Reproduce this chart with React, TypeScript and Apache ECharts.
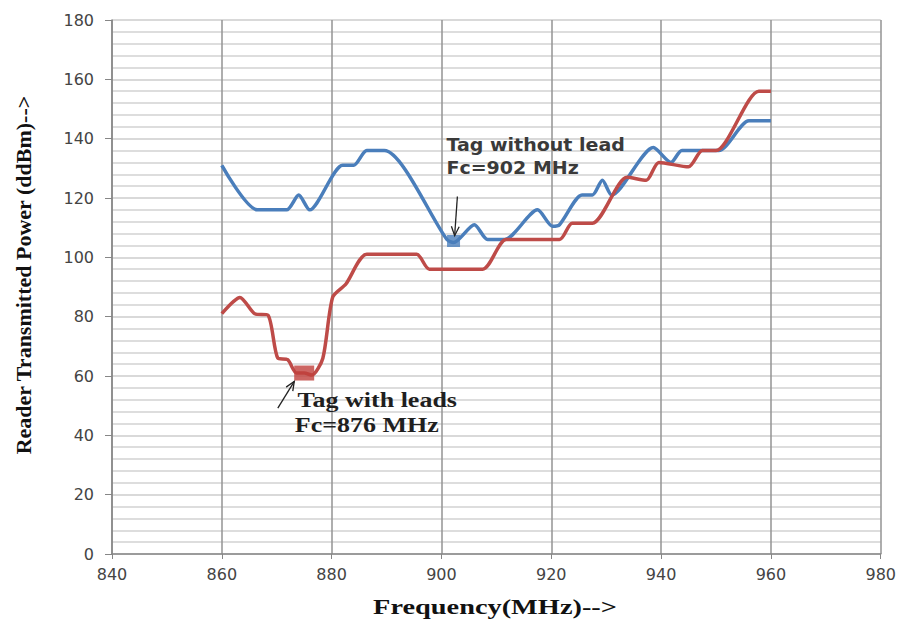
import React, { useEffect, useRef } from "react";
import * as echarts from "echarts";

// Tag without lead (blue)
const blueFreq = [860, 866.5, 871.8, 874, 876, 882, 884, 886.4, 889.6, 901, 902.2, 906, 908.4, 911.5, 917.5, 920.2, 921.5, 925.6, 927.5, 929.3, 931, 938.6, 941.8, 943.8, 950.5, 956, 960];
const bluePower = [131, 116, 116, 121, 116, 131, 131, 136, 136, 106, 105, 111, 106, 106, 116, 110.5, 111, 121, 121, 126, 121, 137, 132, 136, 136, 146, 146];

// Tag with leads (red)
const redFreq = [860, 863.3, 866, 868.4, 870.2, 872, 873.6, 875, 876.4, 878.4, 880.2, 882.6, 886.4, 895.5, 897.8, 907.5, 911.8, 921.5, 923.8, 927.5, 933.8, 937.3, 939.6, 945, 947.5, 950, 957.8, 960];
const redPower = [81, 86.5, 81, 80.5, 66, 65.5, 61, 61, 60.3, 66, 86.6, 91, 101, 101, 96, 96, 106, 106, 111.5, 111.5, 127, 126, 132, 130.5, 136, 136, 156, 156];

// Resonance markers
const blueMarker = [902.2, 105.5];
const redMarker = [875, 61];

// Axis settings
const xMin = 840, xMax = 980, xStep = 20;
const yMin = 0, yMax = 180, yStep = 20;

const xTitle = "Frequency(MHz)-->";
const yTitle = "Reader Transmitted Power (ddBm)-->";

// Annotations in data coordinates
const annoTexts = [
  { text: "Tag without lead", at: [900.9, 137.8], font: "sans", color: "#3a3a3a" },
  { text: "Fc=902 MHz", at: [900.9, 130.0], font: "sans", color: "#3a3a3a" },
  { text: "Tag with leads", at: [873.8, 51.9], font: "serif", color: "#1f1f1f" },
  { text: "Fc=876 MHz", at: [873.3, 43.4], font: "serif", color: "#1f1f1f" },
];
const annoArrows = [
  { from: [902.9, 120.5], to: [902.4, 107.3] },
  { from: [870.2, 49.2], to: [873.2, 58.2] },
];

const BLUE = "#4a7ebb";
const RED = "#be4b48";

export default function App() {
  const ref = useRef<HTMLDivElement>(null);
  useEffect(() => {
    if (!ref.current) return;
    const chart = echarts.init(ref.current, null, { renderer: "svg" });
    const blueData = blueFreq.map((f, i) => [f, bluePower[i]]);
    const redData = redFreq.map((f, i) => [f, redPower[i]]);
    chart.setOption({
      animation: false,
      backgroundColor: "#ffffff",
      grid: { left: 112, right: 17, top: 20, bottom: 66 },
      xAxis: {
        type: "value",
        min: xMin,
        max: xMax,
        interval: xStep,
        axisLine: { show: true, onZero: false, lineStyle: { color: "#868686", width: 1.5 } },
        axisTick: { show: true, length: 5, lineStyle: { color: "#868686" } },
        axisLabel: { fontFamily: "DejaVu Sans", fontSize: 16, color: "#444444", margin: 12 },
        splitLine: { show: true, lineStyle: { color: "#939393", width: 1.5 } },
      },
      yAxis: {
        type: "value",
        min: yMin,
        max: yMax,
        interval: yStep,
        axisLine: { show: true, lineStyle: { color: "#868686", width: 1.5 } },
        axisTick: { show: true, length: 7, lineStyle: { color: "#868686" } },
        axisLabel: { fontFamily: "DejaVu Sans", fontSize: 16, color: "#444444", margin: 18 },
        splitLine: { show: true, lineStyle: { color: "#cdcdcd", width: 1.5 } },
        minorTick: { show: false, splitNumber: 5 },
        minorSplitLine: { show: true, lineStyle: { color: "#d2d2d2", width: 1.5 } },
      },
      series: [
        {
          type: "line",
          name: "Tag without lead",
          data: blueData,
          showSymbol: false,
          smooth: 0.25,
          lineStyle: { color: BLUE, width: 3.5 },
          z: 3,
        },
        {
          type: "line",
          name: "Tag with leads",
          data: redData,
          showSymbol: false,
          smooth: 0.25,
          lineStyle: { color: RED, width: 3.5 },
          z: 4,
        },
        {
          type: "scatter",
          data: [blueMarker],
          symbol: "rect",
          symbolSize: [13, 12],
          itemStyle: { color: BLUE },
          z: 5,
        },
        {
          type: "scatter",
          data: [redMarker],
          symbol: "rect",
          symbolSize: [20, 15],
          itemStyle: { color: "#c0403c" },
          z: 5,
        },
      ],
    });

    const px = (p: number[]) => chart.convertToPixel({ gridIndex: 0 }, p) as number[];
    const graphics: any[] = [];
    annoTexts.forEach((a) => {
      const [x, y] = px(a.at);
      const serif = a.font === "serif";
      graphics.push({
        type: "text",
        x,
        y,
        scaleX: serif ? 1.3 : 1.12,
        z: 10,
        style: {
          text: a.text,
          fill: a.color,
          fontFamily: serif ? "Liberation Serif" : "DejaVu Sans",
          fontWeight: "bold",
          fontSize: serif ? 20 : 17,
          textAlign: "left",
          textVerticalAlign: "middle",
        },
      });
    });
    annoArrows.forEach((ar) => {
      const [x1, y1] = px(ar.from);
      const [x2, y2] = px(ar.to);
      const ang = Math.atan2(y2 - y1, x2 - x1);
      const hl = 10, ha = 0.4;
      const h1 = [x2 - hl * Math.cos(ang - ha), y2 - hl * Math.sin(ang - ha)];
      const h2 = [x2 - hl * Math.cos(ang + ha), y2 - hl * Math.sin(ang + ha)];
      graphics.push({
        type: "line",
        z: 10,
        shape: { x1, y1, x2, y2 },
        style: { stroke: "#222", lineWidth: 1.3 },
      });
      graphics.push({
        type: "polyline",
        z: 10,
        shape: { points: [h1, [x2, y2], h2] },
        style: { stroke: "#222", lineWidth: 1.3, fill: null },
      });
    });
    graphics.push({
      type: "text",
      x: 495,
      y: 607,
      scaleX: 1.35,
      style: {
        text: xTitle,
        fill: "#111",
        fontFamily: "Liberation Serif",
        fontWeight: "bold",
        fontSize: 21,
        textAlign: "center",
        textVerticalAlign: "middle",
      },
    });
    graphics.push({
      type: "text",
      x: 23,
      y: 275,
      rotation: Math.PI / 2,
      style: {
        text: yTitle,
        fill: "#111",
        fontFamily: "Liberation Serif",
        fontWeight: "bold",
        fontSize: 22,
        textAlign: "center",
        textVerticalAlign: "middle",
      },
    });
    chart.setOption({ graphic: graphics });
    return () => chart.dispose();
  }, []);
  return (
    <div
      ref={ref}
      style={{ position: "absolute", left: 0, top: 0, width: 899, height: 620 }}
    />
  );
}
